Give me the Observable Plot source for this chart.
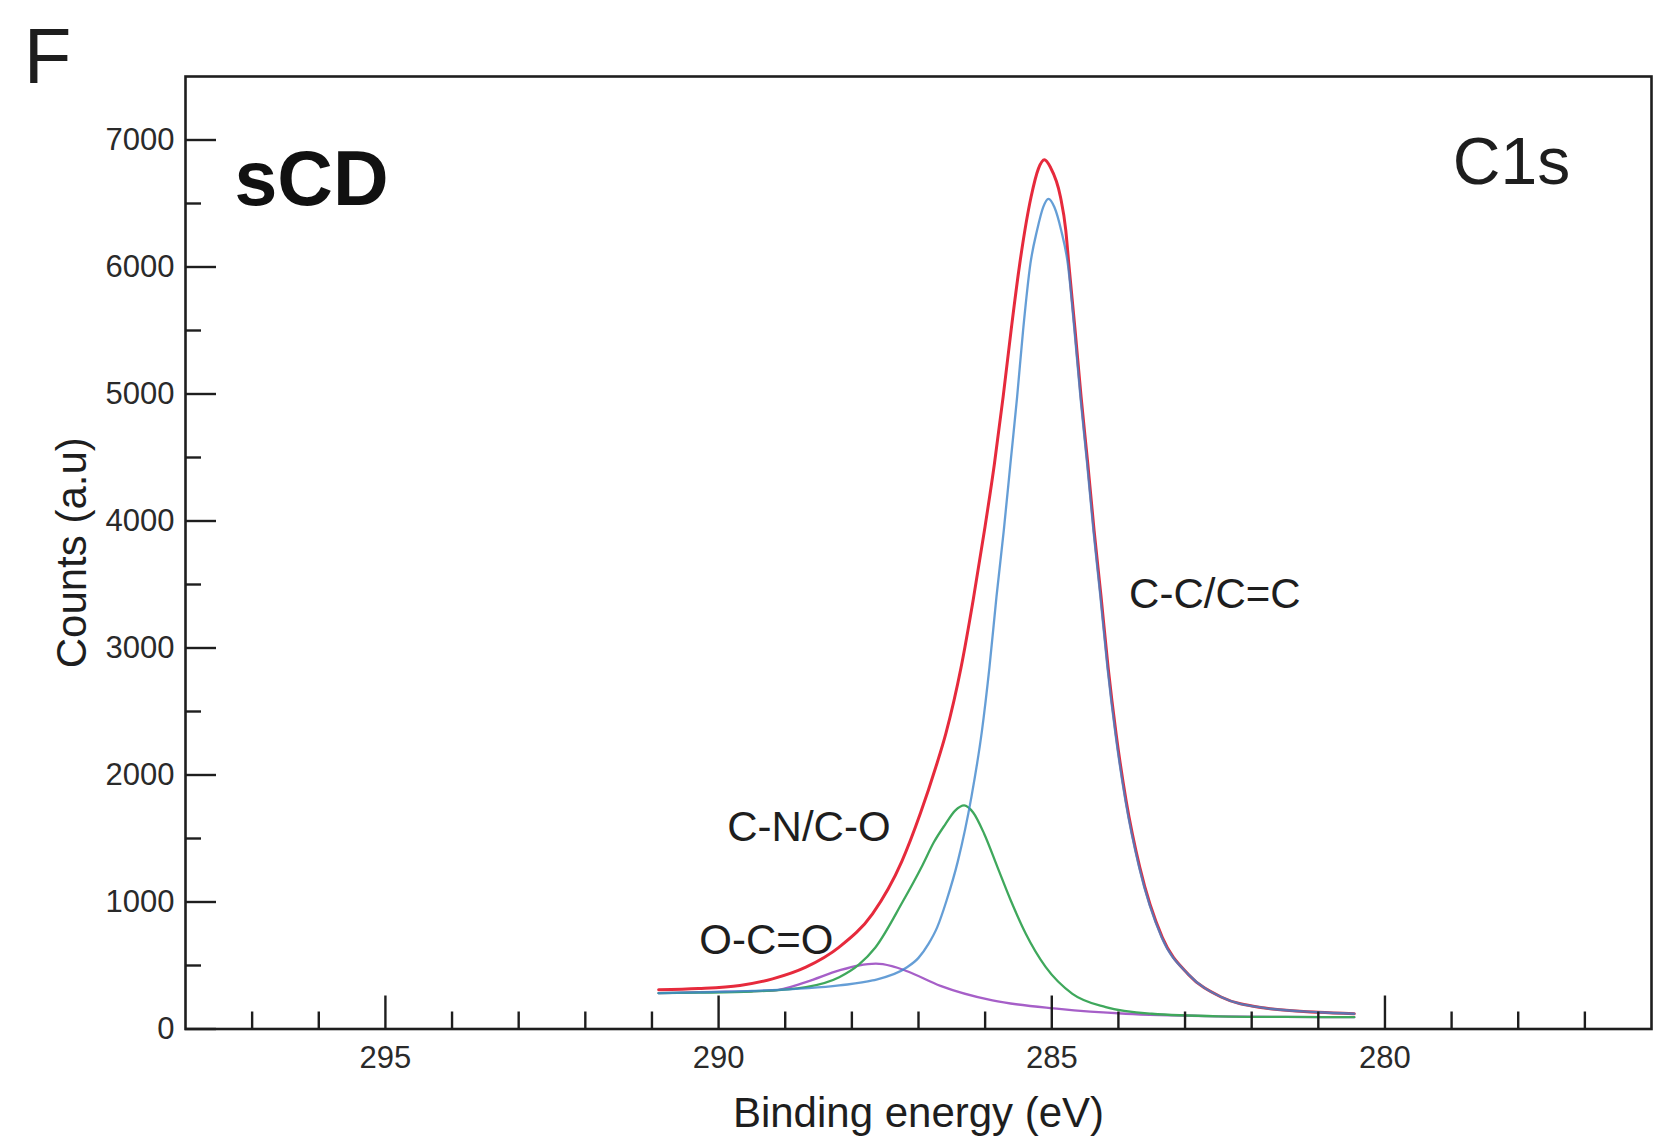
<!DOCTYPE html>
<html>
<head>
<meta charset="utf-8">
<script src="https://cdn.jsdelivr.net/npm/d3@7"></script>
<script src="https://cdn.jsdelivr.net/npm/@observablehq/plot@0.6"></script>
<style>
  html, body { margin: 0; padding: 0; background: #fff; }
  #chart svg { display: block; }
</style>
</head>
<body>
<div id="chart"></div>
<script>
// ---- data ----
// Envelope (sum of fitted components)
const envE = [290.9, 290.3, 289.68, 289.19, 288.69, 288.19, 287.69, 287.25, 286.97, 286.74, 286.59, 286.36, 286.18, 286.01, 285.86, 285.73, 285.61, 285.48, 285.31, 285.2, 285.11, 285.02, 284.87, 284.79, 284.745, 284.65, 284.56, 284.46, 284.365, 284.26, 284.155, 284.035, 283.885, 283.68, 283.34, 282.95, 282.45, 281.8, 281.0, 280.46];
const envCounts = [309, 318, 343, 395, 487, 645, 907, 1320, 1700, 2063, 2326, 2850, 3376, 3927, 4453, 4977, 5503, 6028, 6553, 6775, 6844, 6785, 6553, 6291, 6028, 5503, 4977, 4453, 3927, 3402, 2850, 2326, 1800, 1275, 720, 430, 250, 165, 132, 120];

// C-C/C=C component
const ccE = [290.9, 290.3, 289.5, 288.19, 287.69, 287.19, 287.0, 286.85, 286.72, 286.58, 286.41, 286.205, 286.05, 285.935, 285.83, 285.72, 285.62, 285.52, 285.43, 285.32, 285.22, 285.13, 285.05, 284.96, 284.86, 284.76, 284.66, 284.57, 284.47, 284.375, 284.27, 284.165, 284.045, 283.895, 283.69, 283.35, 282.95, 282.45, 281.8, 281.0, 280.46];
const ccCounts = [282, 288, 300, 343, 382, 480, 560, 670, 800, 1010, 1320, 1830, 2340, 2850, 3402, 3927, 4453, 4977, 5503, 6028, 6291, 6470, 6537, 6470, 6291, 6028, 5503, 4977, 4453, 3927, 3402, 2850, 2326, 1800, 1275, 720, 430, 250, 165, 132, 120];

// C-N/C-O component
const cnE = [290.9, 290.3, 289.5, 288.69, 288.19, 287.9, 287.65, 287.24, 286.94, 286.77, 286.6, 286.45, 286.315, 286.18, 286.015, 285.815, 285.615, 285.39, 285.09, 284.69, 284.19, 283.5, 282.5, 281.5, 280.46];
const cnCounts = [282, 286, 295, 330, 408, 505, 640, 1000, 1290, 1470, 1610, 1720, 1761, 1705, 1538, 1275, 1012, 750, 487, 277, 172, 120, 100, 95, 93];

// O-C=O component
const ocE = [290.9, 290.3, 289.19, 288.69, 288.19, 287.9, 287.64, 287.4, 287.17, 286.67, 285.89, 284.89, 283.89, 282.5, 281.5, 280.46];
const ocCounts = [282, 290, 303, 369, 461, 500, 514, 495, 455, 340, 225, 159, 120, 100, 95, 93];

// axis ticks
const xMajor = [295, 290, 285, 280];
const xMinor = [297, 296, 294, 293, 292, 291, 289, 288, 287, 286, 284, 283, 282, 281, 279, 278, 277];
const yMajor = [0, 1000, 2000, 3000, 4000, 5000, 6000, 7000];
const yMinor = [500, 1500, 2500, 3500, 4500, 5500, 6500];

// peak labels
const peakNames = ["C-C/C=C", "C-N/C-O", "O-C=O"];
const peakLabelE = [283.84, 289.87, 290.29];
const peakLabelCounts = [3423, 1588, 697];

// ---- build tables ----
const zip = (E, C) => E.map((e, i) => ({E: e, counts: C[i]}));
const env = zip(envE, envCounts);
const cc = zip(ccE, ccCounts);
const cn = zip(cnE, cnCounts);
const oc = zip(ocE, ocCounts);
const labels = peakNames.map((n, i) => ({name: n, E: peakLabelE[i], counts: peakLabelCounts[i]}));

const font = "'Liberation Sans', Arial, Helvetica, sans-serif";
const ink = "#1e1e1e";
const noText = () => "";

const chart = Plot.plot({
  width: 1654,
  height: 1145,
  marginLeft: 185,
  marginRight: 3,
  marginTop: 76,
  marginBottom: 116.5,
  x: {domain: [298, 276], label: null},
  y: {domain: [0, 7500], label: null},
  style: {fontFamily: font, color: ink, background: "#fff", overflow: "visible"},
  marks: [
    // component curves
    Plot.line(oc, {x: "E", y: "counts", stroke: "#a65fc8", strokeWidth: 2.3, curve: "monotone-x"}),
    Plot.line(cn, {x: "E", y: "counts", stroke: "#3fa85c", strokeWidth: 2.3, curve: "monotone-x"}),
    Plot.line(env, {x: "E", y: "counts", stroke: "#e62a3c", strokeWidth: 3, curve: "monotone-x"}),
    Plot.line(cc, {x: "E", y: "counts", stroke: "#3f86cc", strokeWidth: 2.3, strokeOpacity: 0.8, curve: "monotone-x"}),

    // frame
    Plot.frame({stroke: ink, strokeWidth: 2.6}),

    // x ticks (inward)
    Plot.axisX({ticks: xMajor, tickSize: -33, tickFormat: noText, strokeWidth: 2.4, stroke: ink}),
    Plot.axisX({ticks: xMinor, tickSize: -17, tickFormat: noText, strokeWidth: 2.4, stroke: ink}),
    Plot.axisX({ticks: xMajor, tickSize: 0, tickPadding: 17, tickFormat: d => String(d), fontSize: 31, fill: "#2a2a2a"}),

    // y ticks (inward)
    Plot.axisY({ticks: yMajor, tickSize: -31, tickFormat: noText, strokeWidth: 2.4, stroke: ink}),
    Plot.axisY({ticks: yMinor, tickSize: -16, tickFormat: noText, strokeWidth: 2.4, stroke: ink}),
    Plot.axisY({ticks: yMajor, tickSize: 0, tickPadding: 11, tickFormat: d => String(d), fontSize: 31, fill: "#2a2a2a"}),

    // axis titles
    Plot.text(["Binding energy (eV)"], {frameAnchor: "bottom", dy: 84.5, fontSize: 42, fill: ink, textAnchor: "middle", lineAnchor: "middle"}),
    Plot.text(["Counts (a.u)"], {frameAnchor: "left", dx: -113, rotate: -90, fontSize: 42, fill: ink, textAnchor: "middle", lineAnchor: "middle"}),

    // panel labels
    Plot.text(["F"], {frameAnchor: "top-left", dx: -138, dy: -18, fontSize: 78, fill: ink, textAnchor: "middle", lineAnchor: "middle"}),
    Plot.text(["sCD"], {frameAnchor: "top-left", dx: 126, dy: 104, fontSize: 77, fontWeight: "bold", fill: "#111", textAnchor: "middle", lineAnchor: "middle"}),
    Plot.text(["C1s"], {frameAnchor: "top-right", dx: -140, dy: 86.5, fontSize: 66, fill: ink, textAnchor: "middle", lineAnchor: "middle"}),

    // peak labels
    Plot.text(labels, {x: "E", y: "counts", text: "name", textAnchor: "start", lineAnchor: "middle", fontSize: 42, fill: ink})
  ]
});
document.getElementById("chart").appendChild(chart);
</script>
</body>
</html>
